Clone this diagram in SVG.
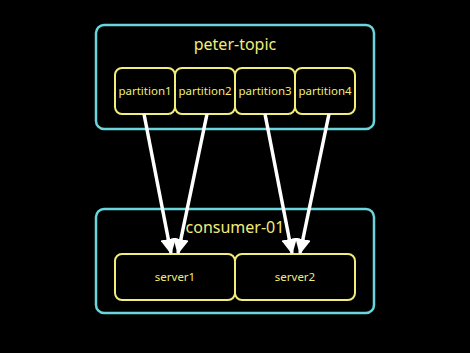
<svg xmlns="http://www.w3.org/2000/svg" width="470" height="353" viewBox="0 0 470 353">
<style>
.outer{fill:none;stroke:#68d6dc;stroke-width:2.5}
.box{fill:#000;stroke:#f2ec7a;stroke-width:2}
.t{font-family:"Noto Sans","DejaVu Sans",sans-serif;fill:#f2ec7a;text-anchor:middle}
.s{font-size:11.5px}
.l{font-size:16px}
.c{stroke:#fff;stroke-width:3.5;fill:none}
</style>
<defs>
<marker id="ah" viewBox="0 0 10 10" refX="9" refY="5" markerWidth="4.5" markerHeight="4.5" markerUnits="strokeWidth" orient="auto">
<path d="M0,0 L10,5 L0,10 z" fill="#fff"/>
</marker>
</defs>
<rect width="470" height="353" fill="#000"/>
<g id="peter-topic">
<rect class="outer" x="96" y="25" width="278" height="104" rx="8"/>
<text class="t l" x="235" y="50">peter-topic</text>
</g>
<g id="partition1"><rect class="box" x="115" y="68" width="60" height="46" rx="7"/><text class="t s" x="145" y="95">partition1</text></g>
<g id="partition2"><rect class="box" x="175" y="68" width="60" height="46" rx="7"/><text class="t s" x="205" y="95">partition2</text></g>
<g id="partition3"><rect class="box" x="235" y="68" width="60" height="46" rx="7"/><text class="t s" x="265" y="95">partition3</text></g>
<g id="partition4"><rect class="box" x="295" y="68" width="60" height="46" rx="7"/><text class="t s" x="325" y="95">partition4</text></g>
<g id="consumer-01">
<rect class="outer" x="96" y="209" width="278" height="104" rx="8"/>
<text class="t l" x="235" y="233">consumer-01</text>
</g>
<g id="server1"><rect class="box" x="115" y="254" width="120" height="46" rx="7"/><text class="t s" x="175" y="281">server1</text></g>
<g id="server2"><rect class="box" x="235" y="254" width="120" height="46" rx="7"/><text class="t s" x="295" y="281">server2</text></g>
<g id="connectors">
<line class="c" x1="144" y1="114" x2="171" y2="253" marker-end="url(#ah)"/>
<line class="c" x1="207" y1="114" x2="178" y2="253" marker-end="url(#ah)"/>
<line class="c" x1="265" y1="114" x2="292" y2="253" marker-end="url(#ah)"/>
<line class="c" x1="329" y1="114" x2="300" y2="253" marker-end="url(#ah)"/>
</g>
</svg>
